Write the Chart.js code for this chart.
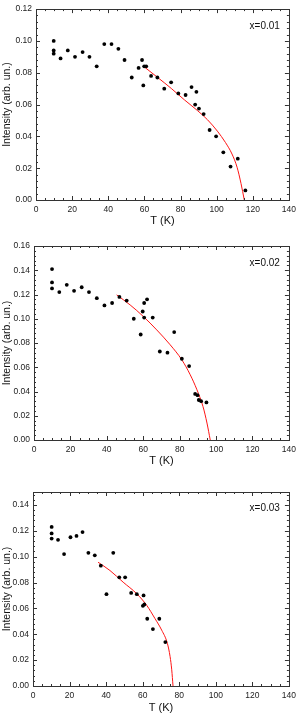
<!DOCTYPE html>
<html>
<head>
<meta charset="utf-8">
<script src="https://cdn.jsdelivr.net/npm/chart.js@4.4.1/dist/chart.umd.min.js"></script>
<style>
  html, body { margin: 0; padding: 0; background: #fff; }
  body { width: 301px; height: 717px; position: relative; overflow: hidden; }
  .panel { position: absolute; left: 0; width: 301px; }
  .panel canvas { display: block; }
</style>
</head>
<body>
<div class="panel" style="top:0px;height:230px"><canvas id="chart1"></canvas></div>
<div class="panel" style="top:232px;height:238px"><canvas id="chart2"></canvas></div>
<div class="panel" style="top:472px;height:245px"><canvas id="chart3"></canvas></div>
<script>
// x = 0.01
const temp1 = [9.8, 9.8, 9.8, 13.6, 17.6, 21.6, 25.8, 29.6, 33.6, 37.8, 41.8, 45.6, 49.0, 53.0, 56.8, 58.7, 59.4, 59.9,
  61.0, 63.7, 67.2, 71.0, 74.8, 78.8, 82.8, 86.1, 88.1, 88.8, 90.2, 92.8, 96.1, 99.7, 103.7, 107.7, 111.7, 115.9];
const inten1 = [0.100, 0.094, 0.092, 0.089, 0.094, 0.090, 0.093, 0.090, 0.084, 0.098, 0.098, 0.095, 0.088, 0.077, 0.083, 0.088, 0.072, 0.084,
  0.084, 0.078, 0.077, 0.070, 0.074, 0.067, 0.066, 0.071, 0.060, 0.068, 0.0575, 0.054, 0.044, 0.040, 0.030, 0.021, 0.026, 0.006];
const fitT1 = [60.1, 67.7, 74.9, 82.2, 89.5, 94.9, 100.4, 104.9, 108.5, 111.3, 113.5, 115.3];
const fitI1 = [0.0835, 0.0767, 0.0701, 0.0629, 0.0561, 0.0505, 0.0433, 0.0361, 0.0289, 0.0206, 0.0103, 0];

// x = 0.02
const temp2 = [9.9, 9.9, 9.9, 13.9, 18.0, 22.0, 26.2, 30.2, 34.5, 38.7, 42.9, 46.9, 50.9, 54.8, 58.6, 59.7, 60.5, 60.5,
  62.1, 65.2, 69.1, 73.3, 77.0, 81.2, 85.2, 88.5, 89.8, 90.5, 91.8, 94.7];
const inten2 = [0.141, 0.130, 0.125, 0.122, 0.128, 0.123, 0.126, 0.122, 0.117, 0.111, 0.113, 0.118, 0.115, 0.100, 0.087, 0.106, 0.113, 0.101,
  0.116, 0.101, 0.073, 0.072, 0.089, 0.067, 0.061, 0.038, 0.037, 0.033, 0.032, 0.031];
const fitT2 = [45.4, 52.8, 60.1, 67.4, 74.8, 81.2, 85.8, 89.5, 92.8, 95.0, 96.8];
const fitI2 = [0.1197, 0.1114, 0.1018, 0.0908, 0.0785, 0.0661, 0.0538, 0.0414, 0.0277, 0.014, 0];

// x = 0.03
const temp3 = [10.2, 10.2, 10.2, 13.7, 17.0, 20.5, 23.8, 27.1, 30.3, 33.8, 37.1, 40.2, 43.9, 47.2, 50.4, 53.7, 56.8, 60.1,
  60.5, 60.9, 62.5, 65.6, 69.1, 72.4];
const inten3 = [0.123, 0.118, 0.114, 0.113, 0.102, 0.115, 0.116, 0.119, 0.103, 0.101, 0.093, 0.071, 0.103, 0.084, 0.084, 0.072, 0.071, 0.062,
  0.070, 0.063, 0.052, 0.044, 0.052, 0.034];
const fitT3 = [35.6, 42.1, 49.3, 56.7, 62.2, 66.7, 70.4, 73.5, 75.0, 75.9, 76.6];
const fitI3 = [0.0957, 0.0893, 0.0803, 0.0714, 0.0624, 0.0522, 0.0432, 0.033, 0.0227, 0.0125, 0];

const panelLabels = ["x=0.01", "x=0.02", "x=0.03"];
const yMaxes = [0.12, 0.16, 0.15];
const xTitle = "T (K)";
const yTitle = "Intensity (arb. un.)";

const FONT = "'Liberation Sans', Arial, sans-serif";

// box frame with inward major/minor ticks on all four sides, plus the panel label
const framePlugin = {
    id: "frame",
    afterDatasetsDraw(chart, args, opts) {
        const ctx = chart.ctx;
        const a = chart.chartArea;
        const xs = chart.scales.x;
        const ys = chart.scales.y;
        ctx.save();
        ctx.strokeStyle = "#333";
        ctx.lineWidth = 1;
        ctx.strokeRect(Math.round(a.left) + 0.5, Math.round(a.top) + 0.5,
            Math.round(a.right - a.left), Math.round(a.bottom - a.top));
        ctx.beginPath();
        for (let v = 0; v <= 140 + 1e-9; v += 5) {
            const px = Math.round(xs.getPixelForValue(v)) + 0.5;
            const len = (v % 20 === 0) ? 4 : 2;
            ctx.moveTo(px, a.bottom); ctx.lineTo(px, a.bottom - len);
            ctx.moveTo(px, a.top); ctx.lineTo(px, a.top + len);
        }
        for (let k = 0; k * 0.004 <= ys.max + 1e-9; k++) {
            const v = k * 0.004;
            const py = Math.round(ys.getPixelForValue(v)) + 0.5;
            const len = (k % 5 === 0) ? 4 : 2;
            ctx.moveTo(a.left, py); ctx.lineTo(a.left + len, py);
            ctx.moveTo(a.right, py); ctx.lineTo(a.right - len, py);
        }
        ctx.stroke();
        ctx.fillStyle = "#111";
        ctx.font = "10px " + FONT;
        ctx.textAlign = "right";
        ctx.textBaseline = "middle";
        ctx.fillText(opts.label, a.right - 9, a.top + opts.labelDy);
        ctx.restore();
    }
};

function makePanel(id, temps, intens, fitT, fitI, label, yMax, layout) {
    const pts = temps.map((t, i) => ({x: t, y: intens[i]}));
    const fit = fitT.map((t, i) => ({x: t, y: fitI[i]}));
    new Chart(document.getElementById(id), {
        type: "scatter",
        data: {
            datasets: [
                {
                    data: pts,
                    backgroundColor: "#000",
                    borderColor: "#000",
                    pointRadius: 1.9,
                    pointHoverRadius: 1.9,
                    borderWidth: 0,
                },
                {
                    type: "line",
                    data: fit,
                    borderColor: "rgb(255,20,20)",
                    borderWidth: 1,
                    pointRadius: 0,
                    fill: false,
                    cubicInterpolationMode: "monotone",
                },
            ],
        },
        options: {
            responsive: true,
            maintainAspectRatio: false,
            animation: false,
            events: [],
            layout: {padding: layout.padding},
            plugins: {
                legend: {display: false},
                tooltip: {enabled: false},
                frame: {label: label, labelDy: layout.labelDy},
            },
            scales: {
                x: {
                    type: "linear",
                    min: 0,
                    max: 140,
                    grid: {display: false, drawTicks: false},
                    border: {display: false},
                    ticks: {
                        stepSize: 20,
                        padding: 5,
                        color: "#222",
                        font: {family: FONT, size: 8.5},
                        maxRotation: 0,
                    },
                    title: {
                        display: true,
                        text: xTitle,
                        color: "#111",
                        font: {family: FONT, size: 11},
                        padding: {top: 2, bottom: layout.xTitlePad},
                    },
                    afterFit(scale) { scale.height = layout.xHeight; },
                },
                y: {
                    type: "linear",
                    min: 0,
                    max: yMax,
                    grid: {display: false, drawTicks: false},
                    border: {display: false},
                    afterBuildTicks(scale) {
                        scale.ticks = scale.ticks.filter(t => Math.abs(t.value / 0.02 - Math.round(t.value / 0.02)) < 1e-6);
                    },
                    ticks: {
                        stepSize: 0.02,
                        padding: 4,
                        color: "#222",
                        font: {family: FONT, size: 8.5},
                        callback: (v) => v.toFixed(2),
                    },
                    title: {
                        display: true,
                        text: yTitle,
                        color: "#111",
                        font: {family: FONT, size: 10.5},
                        padding: {top: 1, bottom: 0},
                    },
                    afterFit(scale) { scale.width = layout.yWidth; },
                },
            },
        },
        plugins: [framePlugin],
    });
}

makePanel("chart1", temp1, inten1, fitT1, fitI1, panelLabels[0], yMaxes[0],
    {padding: {top: 6, right: 8, bottom: 0, left: 0}, yWidth: 36, xHeight: 30, xTitlePad: 2, labelDy: 17});
makePanel("chart2", temp2, inten2, fitT2, fitI2, panelLabels[1], yMaxes[1],
    {padding: {top: 14, right: 12, bottom: 0, left: 0}, yWidth: 34, xHeight: 30, xTitlePad: 2, labelDy: 17});
makePanel("chart3", temp3, inten3, fitT3, fitI3, panelLabels[2], yMaxes[2],
    {padding: {top: 20, right: 12, bottom: 0, left: 0}, yWidth: 33, xHeight: 31, xTitlePad: 2, labelDy: 16});
</script>
</body>
</html>
